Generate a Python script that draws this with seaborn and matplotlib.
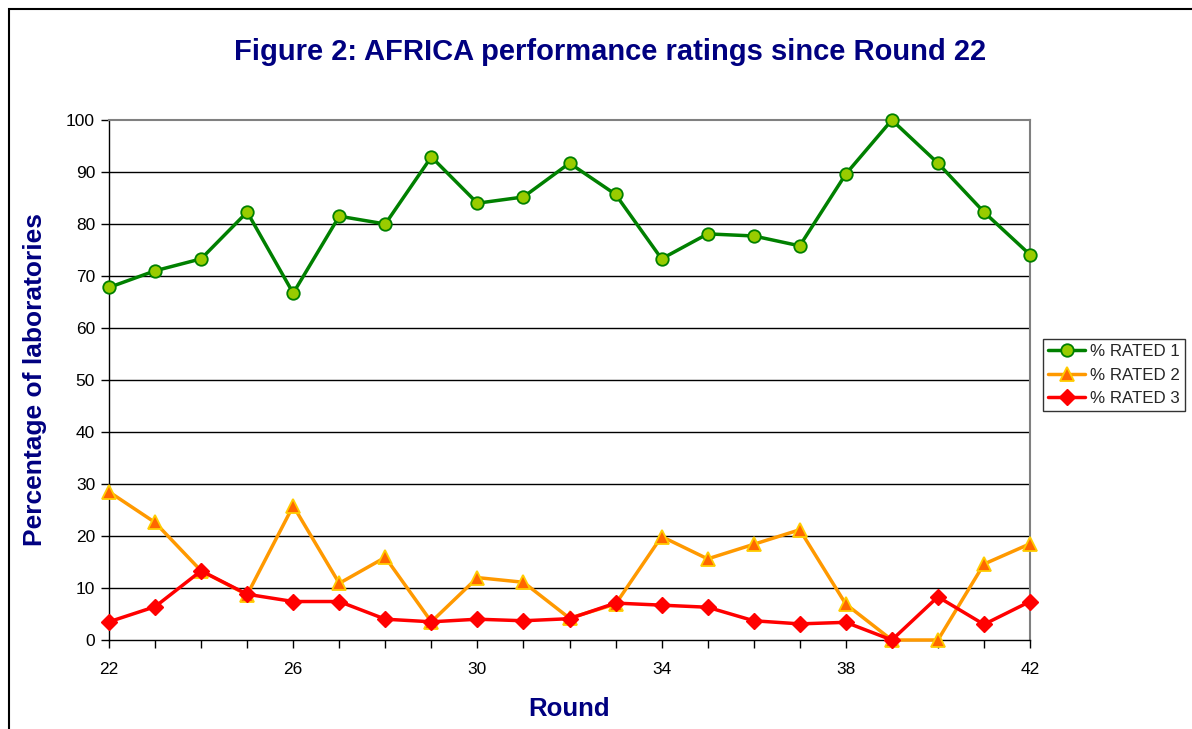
import matplotlib
matplotlib.use("Agg")
import matplotlib.pyplot as plt
from matplotlib.patches import Rectangle
import seaborn as sns
import pandas as pd

rounds = list(range(22, 43))
rated_1 = [67.8, 71.0, 73.3, 82.3, 66.7, 81.5, 80.0, 92.9, 84.0, 85.2, 91.7,
           85.7, 73.3, 78.1, 77.7, 75.8, 89.6, 100.0, 91.7, 82.3, 74.1]
rated_2 = [28.5, 22.6, 13.3, 8.7, 25.8, 10.9, 15.9, 3.5, 12.0, 11.1, 4.2,
           6.9, 19.9, 15.6, 18.4, 21.2, 6.9, 0.0, 0.0, 14.6, 18.5]
rated_3 = [3.5, 6.4, 13.3, 8.8, 7.4, 7.4, 4.0, 3.5, 4.0, 3.7, 4.1,
           7.1, 6.7, 6.3, 3.7, 3.1, 3.4, 0.0, 8.3, 3.0, 7.4]
series_names = ["% RATED 1", "% RATED 2", "% RATED 3"]
x_tick_labels = [22, 26, 30, 34, 38, 42]

sns.set_theme(style="white")
plt.rcParams["font.family"] = ["Liberation Sans", "DejaVu Sans"]

df = pd.DataFrame({"Round": rounds, series_names[0]: rated_1,
                   series_names[1]: rated_2, series_names[2]: rated_3})

fig = plt.figure(figsize=(11.92, 7.29), dpi=100)
ax = fig.add_axes([109 / 1192, 89 / 729, 921 / 1192, 520 / 729])

styles = {
    series_names[0]: dict(color="#008000", marker="o", markersize=9,
                          markerfacecolor="#99CC00", markeredgecolor="#008000",
                          markeredgewidth=1.3),
    series_names[1]: dict(color="#FF9900", marker="^", markersize=10,
                          markerfacecolor="#FF6600", markeredgecolor="#FFCC00",
                          markeredgewidth=1.3),
    series_names[2]: dict(color="#FF0000", marker="D", markersize=8,
                          markerfacecolor="#FF0000", markeredgecolor="#FF0000",
                          markeredgewidth=1.0),
}

for name in series_names:
    sns.lineplot(data=df, x="Round", y=name, ax=ax, linewidth=2.5,
                 label=name, clip_on=False, zorder=5, **styles[name])

ax.set_xlim(22, 42)
ax.set_ylim(0, 100)
ax.set_yticks(range(0, 101, 10))
ax.set_xticks(rounds, minor=True)
ax.set_xticks(x_tick_labels)
ax.set_xticklabels([str(v) for v in x_tick_labels])

for yv in range(10, 100, 10):
    ax.axhline(yv, color="black", linewidth=1.0, zorder=1)

for side in ["top", "right"]:
    ax.spines[side].set_color("#808080")
    ax.spines[side].set_linewidth(1.5)
for side in ["left", "bottom"]:
    ax.spines[side].set_color("black")
    ax.spines[side].set_linewidth(1.0)

ax.tick_params(axis="both", which="both", direction="out", length=6,
               width=1, colors="black", labelsize=12.5, left=True, bottom=True)
ax.tick_params(axis="x", which="major", pad=10)
ax.tick_params(axis="y", pad=4)

ax.set_xlabel("Round", fontsize=18.5, fontweight="bold", color="#000080", labelpad=14)
ax.set_ylabel("Percentage of laboratories", fontsize=19, fontweight="bold",
              color="#000080", labelpad=14)

fig.text(610 / 1192, 1 - 52 / 729, "Figure 2: AFRICA performance ratings since Round 22",
         ha="center", va="center", fontsize=21, fontweight="bold", color="#000080")

leg = ax.legend(loc="center left", bbox_to_anchor=(1043 / 1192, 1 - 375 / 729),
                bbox_transform=fig.transFigure, frameon=True, fancybox=False,
                fontsize=12.2, handlelength=2.2, handletextpad=0.3,
                borderpad=0.3, labelspacing=0.5, borderaxespad=0)
leg.get_frame().set_edgecolor("black")
leg.get_frame().set_linewidth(1.0)

fig.patches.append(Rectangle((9 / 1192, -0.1), 1.2, 0.1 + 720 / 729,
                             transform=fig.transFigure, fill=False,
                             edgecolor="black", linewidth=1.5, figure=fig))

fig.savefig("out.png", dpi=100, facecolor="white")
